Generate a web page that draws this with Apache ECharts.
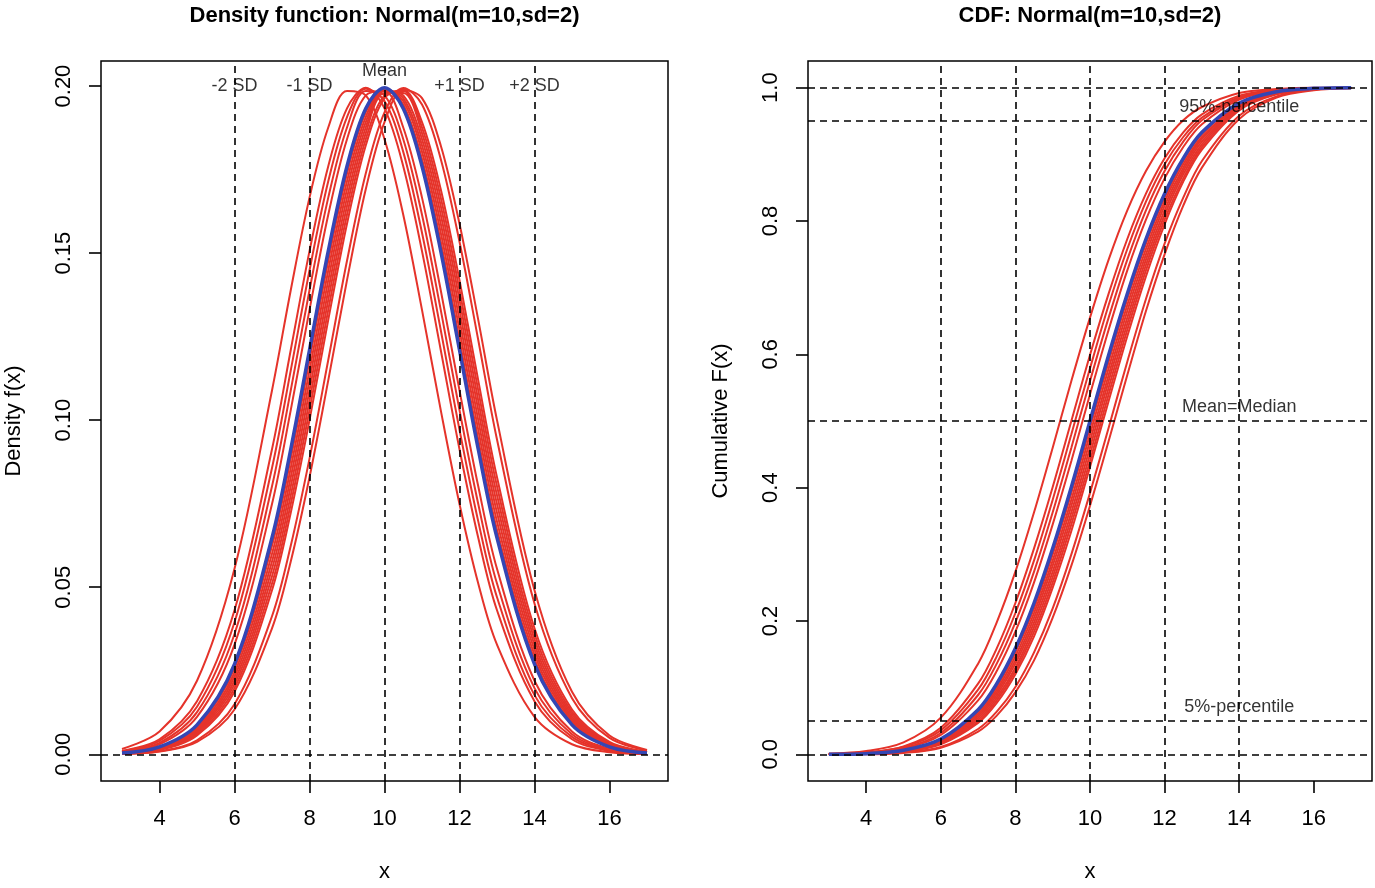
<!DOCTYPE html>
<html>
<head>
<meta charset="utf-8">
<title>Normal(m=10,sd=2): density and CDF</title>
<script src="https://cdn.jsdelivr.net/npm/echarts@6/dist/echarts.min.js"></script>
<style>
  html, body { margin: 0; background: #fff; }
  #main { width: 1375px; height: 888px; }
</style>
</head>
<body>
<div id="main"></div>
<script>
// x grid shared by every curve
const xs = [3, 4, 5, 6, 7, 7.5, 8, 8.5, 9, 9.5, 10, 10.5, 11, 11.5, 12, 12.5, 13, 14, 15, 16, 17];

// red curves (means: 9.2 ... 10.65)
const redMeans = [9.2, 9.5, 9.6, 9.7, 9.8, 10.05, 10.1, 10.15, 10.2, 10.25, 10.3, 10.35, 10.55, 10.65];

const redDensity = [
  [0.0016, 0.0068, 0.0220, 0.0555, 0.1089, 0.1389, 0.1666, 0.1876, 0.1985, 0.1972, 0.1841, 0.1615, 0.1330, 0.1030, 0.0749, 0.0511, 0.0328, 0.0112, 0.0030, 0.0006, 0.0001],
  [0.0010, 0.0045, 0.0159, 0.0431, 0.0913, 0.1210, 0.1506, 0.1760, 0.1933, 0.1995, 0.1933, 0.1760, 0.1506, 0.1210, 0.0913, 0.0648, 0.0431, 0.0159, 0.0045, 0.0010, 0.0002],
  [0.0009, 0.0040, 0.0142, 0.0395, 0.0857, 0.1149, 0.1448, 0.1715, 0.1907, 0.1992, 0.1955, 0.1803, 0.1561, 0.1270, 0.0971, 0.0697, 0.0470, 0.0177, 0.0052, 0.0012, 0.0002],
  [0.0007, 0.0034, 0.0126, 0.0360, 0.0802, 0.1089, 0.1389, 0.1666, 0.1876, 0.1985, 0.1972, 0.1841, 0.1615, 0.1330, 0.1030, 0.0749, 0.0511, 0.0198, 0.0060, 0.0014, 0.0003],
  [0.0006, 0.0030, 0.0112, 0.0328, 0.0749, 0.1030, 0.1330, 0.1615, 0.1841, 0.1972, 0.1985, 0.1876, 0.1666, 0.1389, 0.1089, 0.0802, 0.0555, 0.0220, 0.0068, 0.0016, 0.0003],
  [0.0004, 0.0021, 0.0082, 0.0257, 0.0624, 0.0885, 0.1180, 0.1477, 0.1738, 0.1921, 0.1994, 0.1945, 0.1782, 0.1534, 0.1240, 0.0942, 0.0672, 0.0284, 0.0093, 0.0024, 0.0005],
  [0.0004, 0.0019, 0.0077, 0.0244, 0.0600, 0.0857, 0.1149, 0.1448, 0.1715, 0.1907, 0.1992, 0.1955, 0.1803, 0.1561, 0.1270, 0.0971, 0.0697, 0.0298, 0.0099, 0.0026, 0.0005],
  [0.0003, 0.0018, 0.0072, 0.0232, 0.0577, 0.0829, 0.1119, 0.1419, 0.1691, 0.1892, 0.1989, 0.1964, 0.1822, 0.1588, 0.1300, 0.1000, 0.0723, 0.0313, 0.0105, 0.0028, 0.0006],
  [0.0003, 0.0016, 0.0068, 0.0220, 0.0555, 0.0802, 0.1089, 0.1389, 0.1666, 0.1876, 0.1985, 0.1972, 0.1841, 0.1615, 0.1330, 0.1030, 0.0749, 0.0328, 0.0112, 0.0030, 0.0006],
  [0.0003, 0.0015, 0.0064, 0.0209, 0.0533, 0.0775, 0.1059, 0.1360, 0.1641, 0.1859, 0.1979, 0.1979, 0.1859, 0.1641, 0.1360, 0.1059, 0.0775, 0.0344, 0.0119, 0.0032, 0.0007],
  [0.0003, 0.0014, 0.0060, 0.0198, 0.0511, 0.0749, 0.1030, 0.1330, 0.1615, 0.1841, 0.1972, 0.1985, 0.1876, 0.1666, 0.1389, 0.1089, 0.0802, 0.0360, 0.0126, 0.0034, 0.0007],
  [0.0002, 0.0013, 0.0056, 0.0187, 0.0491, 0.0723, 0.1000, 0.1300, 0.1588, 0.1822, 0.1964, 0.1989, 0.1892, 0.1691, 0.1419, 0.1119, 0.0829, 0.0377, 0.0134, 0.0037, 0.0008],
  [0.0002, 0.0009, 0.0042, 0.0150, 0.0413, 0.0624, 0.0885, 0.1180, 0.1477, 0.1738, 0.1921, 0.1994, 0.1945, 0.1782, 0.1534, 0.1240, 0.0942, 0.0451, 0.0168, 0.0049, 0.0011],
  [0.0001, 0.0008, 0.0037, 0.0134, 0.0377, 0.0577, 0.0829, 0.1119, 0.1419, 0.1691, 0.1892, 0.1989, 0.1964, 0.1822, 0.1588, 0.1300, 0.1000, 0.0491, 0.0187, 0.0056, 0.0013]
];

const redCdf = [
  [0.001, 0.005, 0.018, 0.055, 0.136, 0.198, 0.274, 0.363, 0.460, 0.560, 0.655, 0.742, 0.816, 0.875, 0.919, 0.951, 0.971, 0.992, 0.998, 1.000, 1.000],
  [0.001, 0.003, 0.012, 0.040, 0.106, 0.159, 0.227, 0.309, 0.401, 0.500, 0.599, 0.691, 0.773, 0.841, 0.894, 0.933, 0.960, 0.988, 0.997, 0.999, 1.000],
  [0.000, 0.003, 0.011, 0.036, 0.097, 0.147, 0.212, 0.291, 0.382, 0.480, 0.579, 0.674, 0.758, 0.829, 0.885, 0.926, 0.955, 0.986, 0.997, 0.999, 1.000],
  [0.000, 0.002, 0.009, 0.032, 0.089, 0.136, 0.198, 0.274, 0.363, 0.460, 0.560, 0.655, 0.742, 0.816, 0.875, 0.919, 0.951, 0.984, 0.996, 0.999, 1.000],
  [0.000, 0.002, 0.008, 0.029, 0.081, 0.125, 0.184, 0.258, 0.345, 0.440, 0.540, 0.637, 0.726, 0.802, 0.864, 0.911, 0.945, 0.982, 0.995, 0.999, 1.000],
  [0.000, 0.001, 0.006, 0.021, 0.064, 0.101, 0.153, 0.219, 0.300, 0.392, 0.490, 0.589, 0.683, 0.766, 0.835, 0.890, 0.930, 0.976, 0.993, 0.999, 1.000],
  [0.000, 0.001, 0.005, 0.020, 0.061, 0.097, 0.147, 0.212, 0.291, 0.382, 0.480, 0.579, 0.674, 0.758, 0.829, 0.885, 0.926, 0.974, 0.993, 0.998, 1.000],
  [0.000, 0.001, 0.005, 0.019, 0.058, 0.093, 0.141, 0.205, 0.283, 0.373, 0.470, 0.569, 0.665, 0.750, 0.823, 0.880, 0.923, 0.973, 0.992, 0.998, 1.000],
  [0.000, 0.001, 0.005, 0.018, 0.055, 0.089, 0.136, 0.198, 0.274, 0.363, 0.460, 0.560, 0.655, 0.742, 0.816, 0.875, 0.919, 0.971, 0.992, 0.998, 1.000],
  [0.000, 0.001, 0.004, 0.017, 0.052, 0.085, 0.130, 0.191, 0.266, 0.354, 0.450, 0.550, 0.646, 0.734, 0.809, 0.870, 0.915, 0.970, 0.991, 0.998, 1.000],
  [0.000, 0.001, 0.004, 0.016, 0.049, 0.081, 0.125, 0.184, 0.258, 0.345, 0.440, 0.540, 0.637, 0.726, 0.802, 0.864, 0.911, 0.968, 0.991, 0.998, 1.000],
  [0.000, 0.001, 0.004, 0.015, 0.047, 0.077, 0.120, 0.177, 0.250, 0.335, 0.431, 0.530, 0.627, 0.717, 0.795, 0.859, 0.907, 0.966, 0.990, 0.998, 1.000],
  [0.000, 0.001, 0.003, 0.011, 0.038, 0.064, 0.101, 0.153, 0.219, 0.300, 0.392, 0.490, 0.589, 0.683, 0.766, 0.835, 0.890, 0.958, 0.987, 0.997, 0.999],
  [0.000, 0.000, 0.002, 0.010, 0.034, 0.058, 0.093, 0.141, 0.205, 0.283, 0.373, 0.470, 0.569, 0.665, 0.750, 0.823, 0.880, 0.953, 0.985, 0.996, 0.999]
];

// blue curve: the true Normal(10, 2)
const blueDensity = [0.0004, 0.0022, 0.0088, 0.0270, 0.0648, 0.0913, 0.1210, 0.1506, 0.1760, 0.1933, 0.1995, 0.1933, 0.1760, 0.1506, 0.1210, 0.0913, 0.0648, 0.0270, 0.0088, 0.0022, 0.0004];
const blueCdf = [0.000, 0.001, 0.006, 0.023, 0.067, 0.106, 0.159, 0.227, 0.309, 0.401, 0.500, 0.599, 0.691, 0.773, 0.841, 0.894, 0.933, 0.977, 0.994, 0.999, 1.000];

// ticks and reference lines
const xTicks = [4, 6, 8, 10, 12, 14, 16];
const densityTicks = [0, 0.05, 0.10, 0.15, 0.20];
const cdfTicks = [0, 0.2, 0.4, 0.6, 0.8, 1.0];
const sdLines = [6, 8, 10, 12, 14];
const sdLabels = ['-2 SD', '-1 SD', 'Mean', '+1 SD', '+2 SD'];
const cdfLevels = [0, 0.05, 0.5, 0.95, 1];
const cdfLabels = ['5%-percentile', 'Mean=Median', '95%-percentile'];
const cdfLabelLevels = [0.05, 0.5, 0.95];

const font = 'Liberation Sans, Arial, Helvetica, sans-serif';
const RED = '#e5332a';
const BLUE = '#3446b4';
const SMOOTH = 0.34;

const chart = echarts.init(document.getElementById('main'));

const pairs = (ys) => xs.map((x, i) => [x, ys[i]]);

const dashed = { color: '#000', width: 1.6, type: [7, 5] };

function xAxisFor(i) {
  return {
    type: 'value', gridIndex: i, min: 2.44, max: 17.56,
    axisLine: { show: false, onZero: false }, splitLine: { show: false },
    axisTick: { show: true, customValues: xTicks, length: 12, lineStyle: { color: '#000', width: 1.6 } },
    axisLabel: { customValues: xTicks, fontSize: 22, color: '#000', fontFamily: font, margin: 27 },
    name: 'x', nameLocation: 'middle', nameGap: 80,
    nameTextStyle: { fontSize: 22, color: '#000', fontFamily: font }
  };
}

function yAxisFor(i, min, max, ticks, digits, name) {
  return {
    type: 'value', gridIndex: i, min: min, max: max,
    axisLine: { show: false, onZero: false }, splitLine: { show: false },
    axisTick: { show: true, customValues: ticks, length: 12, lineStyle: { color: '#000', width: 1.6 } },
    axisLabel: {
      customValues: ticks, rotate: 90, fontSize: 22, color: '#000', fontFamily: font, margin: 26,
      formatter: (v) => v.toFixed(digits)
    },
    name: name, nameLocation: 'middle', nameGap: 76,
    nameTextStyle: { fontSize: 22, color: '#000', fontFamily: font }
  };
}

const series = [];

// density panel
redDensity.forEach((ys, k) => {
  series.push({
    name: 'm=' + redMeans[k], type: 'line', xAxisIndex: 0, yAxisIndex: 0,
    data: pairs(ys), smooth: SMOOTH, showSymbol: false, silent: true,
    lineStyle: { color: RED, width: 2 }, z: 2
  });
});
series.push({
  name: 'Normal(10,2)', type: 'line', xAxisIndex: 0, yAxisIndex: 0,
  data: pairs(blueDensity), smooth: SMOOTH, showSymbol: false, silent: true,
  lineStyle: { color: BLUE, width: 3.5 }, z: 3,
  markLine: {
    silent: true, symbol: 'none', label: { show: false }, lineStyle: dashed,
    data: sdLines.map((v) => ({ xAxis: v })).concat([{ yAxis: 0 }])
  }
});
series.push({
  type: 'scatter', xAxisIndex: 0, yAxisIndex: 0, symbolSize: 1, silent: true,
  itemStyle: { color: 'transparent' }, z: 6,
  data: sdLines.map((v, k) => ({
    value: [v, 0.2, sdLabels[k]],
    label: { offset: [0, sdLabels[k] === 'Mean' ? -15 : 0] }
  })),
  label: { show: true, position: 'inside', formatter: (p) => p.value[2], fontSize: 18, color: '#000', fontFamily: font }
});

// CDF panel
redCdf.forEach((ys, k) => {
  series.push({
    name: 'm=' + redMeans[k], type: 'line', xAxisIndex: 1, yAxisIndex: 1,
    data: pairs(ys), smooth: SMOOTH, showSymbol: false, silent: true,
    lineStyle: { color: RED, width: 2 }, z: 2
  });
});
series.push({
  name: 'Normal(10,2) CDF', type: 'line', xAxisIndex: 1, yAxisIndex: 1,
  data: pairs(blueCdf), smooth: SMOOTH, showSymbol: false, silent: true,
  lineStyle: { color: BLUE, width: 3.5 }, z: 3,
  markLine: {
    silent: true, symbol: 'none', label: { show: false }, lineStyle: dashed,
    data: sdLines.map((v) => ({ xAxis: v })).concat(cdfLevels.map((v) => ({ yAxis: v })))
  }
});
series.push({
  type: 'scatter', xAxisIndex: 1, yAxisIndex: 1, symbolSize: 1, silent: true,
  itemStyle: { color: 'transparent' }, z: 6,
  data: cdfLabels.map((t, k) => [14, cdfLabelLevels[k], t]),
  label: { show: true, position: 'inside', offset: [0, -14], formatter: (p) => p.value[2], fontSize: 18, color: '#000', fontFamily: font }
});

const option = {
  animation: false,
  backgroundColor: '#fff',
  grid: [
    { left: 101, top: 61, width: 567, height: 723, show: true, borderColor: '#000', borderWidth: 1.5, backgroundColor: 'transparent' },
    { left: 808, top: 61, width: 564, height: 723, show: true, borderColor: '#000', borderWidth: 1.5, backgroundColor: 'transparent' }
  ],
  xAxis: [xAxisFor(0), xAxisFor(1)],
  yAxis: [
    yAxisFor(0, -0.008, 0.2075, densityTicks, 2, 'Density f(x)'),
    yAxisFor(1, -0.04, 1.04, cdfTicks, 1, 'Cumulative F(x)')
  ],
  graphic: [
    { type: 'text', x: 384.5, y: 16, style: { text: 'Density function: Normal(m=10,sd=2)', font: 'bold 22px ' + font, fill: '#000', align: 'center', verticalAlign: 'middle' } },
    { type: 'text', x: 1090, y: 16, style: { text: 'CDF: Normal(m=10,sd=2)', font: 'bold 22px ' + font, fill: '#000', align: 'center', verticalAlign: 'middle' } }
  ],
  series: series
};

option && chart.setOption(option);
</script>
</body>
</html>
